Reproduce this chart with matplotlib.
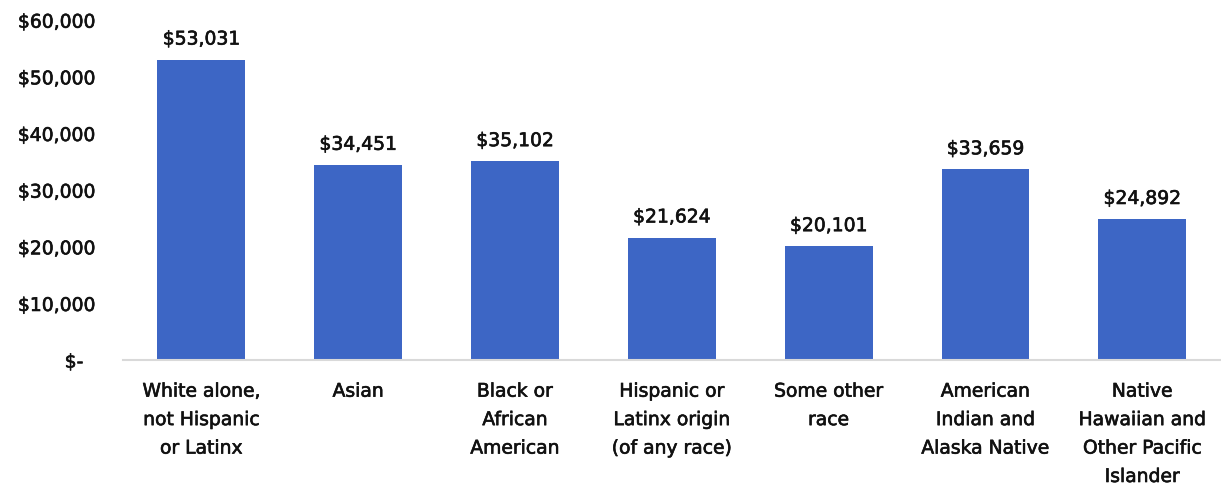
import matplotlib
matplotlib.use("Agg")
import matplotlib.pyplot as plt
import matplotlib.patheffects as pe
from matplotlib.ticker import FuncFormatter

categories = [
    "White alone,\nnot Hispanic\nor Latinx",
    "Asian",
    "Black or\nAfrican\nAmerican",
    "Hispanic or\nLatinx origin\n(of any race)",
    "Some other\nrace",
    "American\nIndian and\nAlaska Native",
    "Native\nHawaiian and\nOther Pacific\nIslander",
]
values = [53031, 34451, 35102, 21624, 20101, 33659, 24892]
y_ticks = [0, 10000, 20000, 30000, 40000, 50000, 60000]

plt.rcParams["font.family"] = ["DejaVu Sans"]
TEXT = "#111111"
BAR = "#3D66C5"
FS = 13.5
weight = [pe.withStroke(linewidth=0.45, foreground=TEXT)]

fig = plt.figure(figsize=(12.21, 4.86), dpi=100)
ax = fig.add_axes([0.1007, 0.259, 0.899, 0.6995])

x = list(range(len(categories)))
ax.bar(x, values, width=0.56, color=BAR, zorder=2)

for xi, v in zip(x, values):
    ax.annotate(f"${v:,}", (xi, v), xytext=(0, 8), textcoords="offset points",
                ha="center", va="bottom", fontsize=FS, color=TEXT,
                path_effects=weight)

ax.set_xlim(-0.5, len(categories) - 0.5)
ax.set_ylim(0, 60000)
ax.set_yticks(y_ticks)


def money(v, pos):
    if v == 0:
        return "$-  "
    return f"${v:,.0f}"


ax.yaxis.set_major_formatter(FuncFormatter(money))
ax.set_xticks(x)
ax.set_xticklabels(categories, fontsize=FS, color=TEXT, linespacing=1.63)
ax.tick_params(axis="y", length=0, pad=20, labelsize=FS, labelcolor=TEXT)
ax.tick_params(axis="x", length=0, pad=15.5)
for lbl in ax.get_xticklabels() + ax.get_yticklabels():
    lbl.set_path_effects(weight)

for side in ["top", "right", "left"]:
    ax.spines[side].set_visible(False)
ax.spines["bottom"].set_color("#d9d9d9")
ax.spines["bottom"].set_linewidth(1.5)

fig.savefig("out.png", dpi=100, facecolor="white")
